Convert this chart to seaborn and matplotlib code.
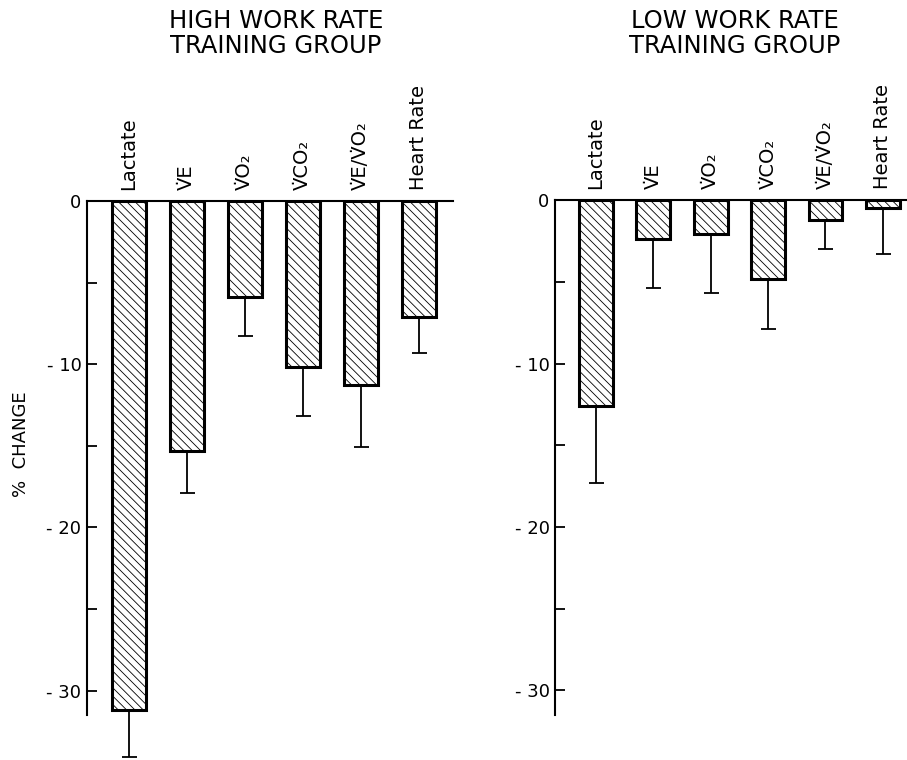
import numpy as np
import pandas as pd
import matplotlib
matplotlib.use("Agg")
import matplotlib.pyplot as plt
import seaborn as sns

# values (% change, mean and SE)
measures = ["Lactate",
            "V\u0307E",
            "V\u0307O\u2082",
            "V\u0307CO\u2082",
            "V\u0307E/V\u0307O\u2082",
            "Heart Rate"]
high_change = [-31.2, -15.3, -5.9, -10.2, -11.3, -7.1]
high_se = [2.9, 2.6, 2.4, 3.0, 3.8, 2.2]
low_change = [-12.6, -2.4, -2.1, -4.8, -1.2, -0.5]
low_se = [4.7, 3.0, 3.6, 3.1, 1.8, 2.8]
titles = ["HIGH WORK RATE\nTRAINING GROUP", "LOW WORK RATE\nTRAINING GROUP"]
y_ticks = [0, -10, -20, -30]
y_minor = [-5, -15, -25]
y_ticklabels = ["0", "- 10", "- 20", "- 30"]

sns.set_style("white")
plt.rcParams["font.family"] = ["DejaVu Sans"]
plt.rcParams["text.color"] = "black"
plt.rcParams["axes.labelcolor"] = "black"
plt.rcParams["xtick.color"] = "black"
plt.rcParams["ytick.color"] = "black"
plt.rcParams["hatch.linewidth"] = 0.6

fig = plt.figure(figsize=(9.07, 7.6), dpi=100)
ax1 = fig.add_axes([0.0959, 0.0592, 0.4035, 0.6763])
ax2 = fig.add_axes([0.612, 0.0592, 0.388, 0.6776])


def draw_panel(ax, change, se, xlim, title, title_x):
    df = pd.DataFrame({"measure": measures, "change": change})
    sns.barplot(data=df, x="measure", y="change", ax=ax, color="white",
                edgecolor="black", linewidth=2.2, width=0.59, zorder=3)
    for p in ax.patches:
        p.set_hatch("\\\\\\\\")
    x = np.arange(len(measures))
    ax.errorbar(x, change, yerr=[se, np.zeros(len(se))], fmt="none",
                ecolor="black", elinewidth=1.3, capsize=5.4, capthick=1.3,
                zorder=2, clip_on=False)
    ax.set_xlim(*xlim)
    ax.set_ylim(-31.5, 0)
    for s in ["right", "bottom"]:
        ax.spines[s].set_visible(False)
    ax.spines["left"].set_linewidth(1.5)
    ax.spines["top"].set_linewidth(1.5)
    ax.spines["left"].set_color("black")
    ax.spines["top"].set_color("black")
    ax.xaxis.tick_top()
    ax.set_xticks(x)
    ax.set_xticklabels(measures, rotation=90, fontsize=14)
    ax.tick_params(axis="x", length=0, pad=8)
    ax.set_xlabel("")
    ax.set_yticks(y_ticks)
    ax.set_yticklabels(y_ticklabels, fontsize=13)
    ax.set_yticks(y_minor, minor=True)
    ax.tick_params(axis="y", which="both", direction="in", length=7,
                   width=1.3, pad=4, left=True)
    ax.set_ylabel("")
    fig.text(title_x, 0.988, title, ha="center", va="top", fontsize=17.5,
             linespacing=1.05)


draw_panel(ax1, high_change, high_se, (-0.72, 5.59), titles[0], 0.304)
draw_panel(ax2, low_change, low_se, (-0.71, 5.42), titles[1], 0.81)
ax1.set_ylabel("%  CHANGE", fontsize=13)
ax1.yaxis.set_label_coords(-0.155, 0.527)

fig.savefig("out.png", dpi=100)
